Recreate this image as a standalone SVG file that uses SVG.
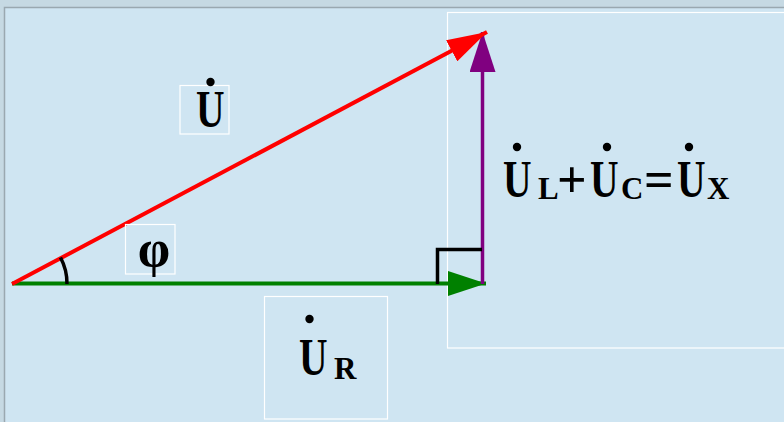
<svg xmlns="http://www.w3.org/2000/svg" width="784" height="422" viewBox="0 0 784 422">
  <style>
    .lbl { font-family: "Liberation Serif", "Times New Roman", serif; font-weight: bold; fill: #000; }
    .big { font-size: 52px; }
    .sub { font-size: 31px; }
    .box { fill: none; stroke: #ffffff; stroke-width: 1.2; }
    .dot { fill: #000; }
  </style>
  <defs>
    <marker id="ah-red" markerUnits="userSpaceOnUse" viewBox="0 0 40 24" markerWidth="40" markerHeight="24" refX="40" refY="12" orient="auto">
      <path d="M0,0 L40,12 L0,24 Z" fill="#ff0000"/>
    </marker>
    <marker id="ah-green" markerUnits="userSpaceOnUse" viewBox="0 0 38 25" markerWidth="38" markerHeight="25" refX="38" refY="12.5" orient="auto">
      <path d="M0,0 L38,12.5 L0,25 Z" fill="#008000"/>
    </marker>
    <marker id="ah-purple" markerUnits="userSpaceOnUse" viewBox="0 0 40 26" markerWidth="40" markerHeight="26" refX="40" refY="13" orient="auto">
      <path d="M0,0 L40,13 L0,26 Z" fill="#800080"/>
    </marker>
  </defs>

  <!-- background -->
  <rect x="0" y="0" width="784" height="422" fill="#c6d9e3"/>
  <rect x="4.5" y="7.5" width="790" height="420" fill="#cfe5f2" stroke="#9aa8b0" stroke-width="1.5"/>

  <!-- label boxes -->
  <g id="box-x">
    <rect class="box" x="447.5" y="12.5" width="345" height="335.5"/>
  </g>

  <!-- connectors -->
  <g id="connectors">
    <line id="u-r" x1="12" y1="283.5" x2="486" y2="283.5" stroke="#008000" stroke-width="4" marker-end="url(#ah-green)"/>
    <line id="u-x" x1="482.5" y1="284" x2="482.5" y2="32" stroke="#800080" stroke-width="3.5" marker-end="url(#ah-purple)"/>
    <line id="u" x1="12" y1="284" x2="487" y2="32" stroke="#ff0000" stroke-width="4" marker-end="url(#ah-red)"/>
    <path id="right-angle" d="M437.5,284 V249.5 H482" fill="none" stroke="#000" stroke-width="3.5"/>
    <path id="angle-arc" d="M60.5,257.5 A55,55 0 0 1 67,284" fill="none" stroke="#000" stroke-width="3.5"/>
  </g>

  <!-- U label -->
  <g id="label-u">
    <rect class="box" x="180" y="85.5" width="49" height="48.5"/>
    <circle class="dot" cx="210.5" cy="82" r="4.2"/>
    <text class="lbl big" transform="translate(196,126.5) scale(0.76,1)">U</text>
  </g>

  <!-- phi label -->
  <g id="label-phi">
    <rect class="box" x="125.5" y="224.5" width="49.5" height="49.5"/>
    <text class="lbl" font-size="52" x="154" y="266" text-anchor="middle">φ</text>
  </g>

  <!-- UR label -->
  <g id="label-ur">
    <rect class="box" x="264.5" y="296.5" width="123" height="122.5"/>
    <circle class="dot" cx="309.5" cy="319" r="4.2"/>
    <text class="lbl big" transform="translate(299,374.5) scale(0.76,1)">U</text>
    <text class="lbl sub" x="334" y="379">R</text>
  </g>

  <!-- UL+UC=UX label -->
  <g id="label-ux">
    <circle class="dot" cx="517" cy="147" r="4.2"/>
    <text class="lbl big" transform="translate(503,197) scale(0.76,1)">U</text>
    <text class="lbl sub" x="538" y="199">L</text>
    <text class="lbl big" x="557" y="197">+</text>
    <circle class="dot" cx="607" cy="147" r="4.2"/>
    <text class="lbl big" transform="translate(590,197) scale(0.76,1)">U</text>
    <text class="lbl sub" x="621" y="199">C</text>
    <text class="lbl big" x="644" y="197">=</text>
    <circle class="dot" cx="689" cy="147" r="4.2"/>
    <text class="lbl big" transform="translate(677,197) scale(0.76,1)">U</text>
    <text class="lbl sub" x="707" y="199">X</text>
  </g>
</svg>
